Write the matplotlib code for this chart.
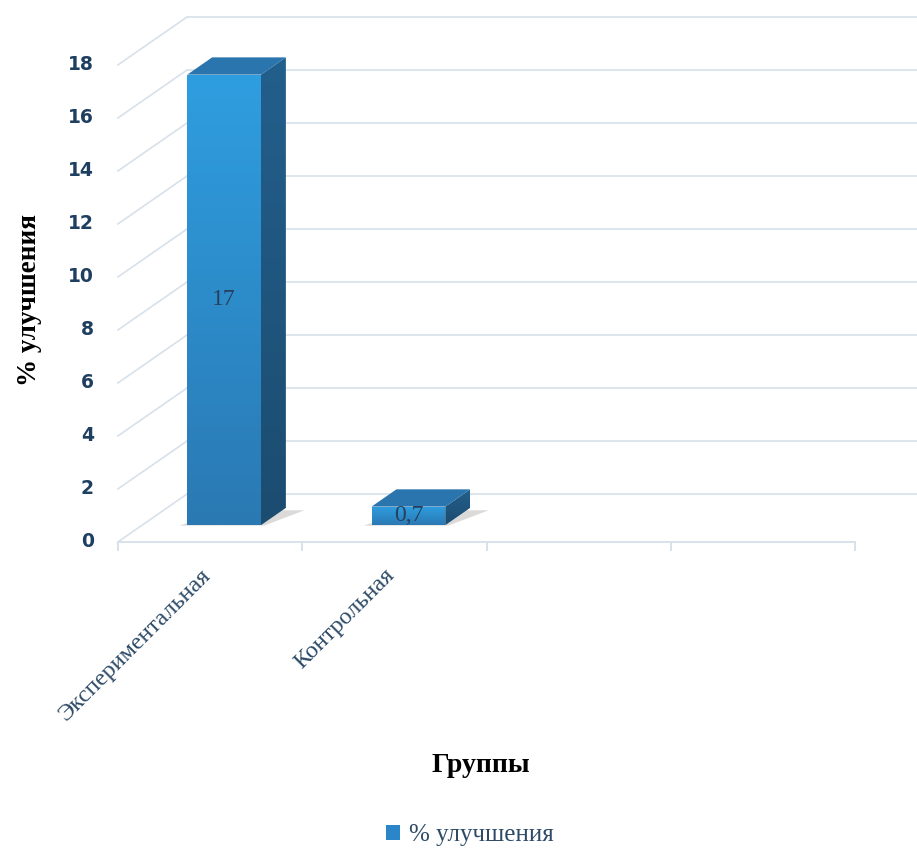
import matplotlib
matplotlib.use("Agg")
import matplotlib.pyplot as plt
import numpy as np
from matplotlib.patches import Polygon, Patch

# data
groups = ["Экспериментальная", "Контрольная", "", ""]
values = [17, 0.7]
y_ticks = [0, 2, 4, 6, 8, 10, 12, 14, 16, 18]
series_name = "% улучшения"
x_title = "Группы"
y_title = "% улучшения"

# oblique projection: depth d in [0, 1] shifts x and y
DX = 0.375
DY = 1.81
GRID = "#d8e1ea"
TEXT = "#2d4a66"


def proj(x, v, d):
    return x + d * DX, v + d * DY


def gradient_fill(ax, poly, c_top, c_bottom, x0, x1, v0, v1):
    grad = np.linspace(0, 1, 256).reshape(-1, 1)
    top = np.array(matplotlib.colors.to_rgb(c_top))
    bot = np.array(matplotlib.colors.to_rgb(c_bottom))
    img = top * (1 - grad[..., None]) + bot * grad[..., None]
    img = np.repeat(img, 2, axis=1)
    im = ax.imshow(img, extent=(x0, x1, v0, v1), aspect="auto",
                   origin="upper", zorder=3, interpolation="bilinear")
    ax.add_patch(poly)
    im.set_clip_path(poly)


def main():
    fig = plt.figure(figsize=(9.17, 8.52), dpi=100)
    ax = fig.add_axes([0, 0, 1, 1])
    ax.set_xlim(-0.640, 4.336)
    ax.set_ylim(-11.70, 20.45)
    ax.axis("off")

    n = len(groups)

    # back wall and side wall grid lines
    for v in y_ticks:
        x0, y0 = proj(0, v, 0)
        x1, y1 = proj(0, v, 1)
        ax.plot([x0, x1], [y0, y1], color=GRID, lw=1.2, zorder=1)
        ax.plot([x1, 4.6], [y1, y1], color=GRID, lw=1.2, zorder=1)
        ax.text(x0 - 0.13, v, str(v), ha="right", va="center",
                fontsize=13.5, fontweight="bold", color="#1f3f60",
                family="DejaVu Sans")

    # front floor edge with category ticks
    ax.plot([0, n], [0, 0], color=GRID, lw=1.4, zorder=2)
    for i in range(n + 1):
        ax.plot([i, i], [0, -0.3], color=GRID, lw=1.4, zorder=2)

    d0, d1 = 0.35, 0.71
    half = 0.2
    for i, val in enumerate(values):
        xc = i + 0.445
        xl, xr = xc - half, xc + half

        # soft shadow on the floor
        sh = [proj(xl - 0.04, 0, d0 - 0.01), proj(xr + 0.02, 0, d0 - 0.01),
              proj(xr + 0.12, 0, d1 - 0.05), proj(xl + 0.1, 0, d1 - 0.05)]
        ax.add_patch(Polygon(sh, closed=True, fc="#8a8580", ec="none",
                             alpha=0.3, zorder=2))

        # side face
        side = Polygon([proj(xr, 0, d0), proj(xr, 0, d1),
                        proj(xr, val, d1), proj(xr, val, d0)],
                       closed=True, fc="none", ec="none", zorder=3)
        sx0, _ = proj(xr, 0, d0)
        sx1, _ = proj(xr, 0, d1)
        _, sv0 = proj(xr, 0, d0)
        _, sv1 = proj(xr, val, d1)
        gradient_fill(ax, side, "#235f8c", "#1c4c70", sx0, sx1, sv0, sv1)

        # top face
        top = Polygon([proj(xl, val, d0), proj(xr, val, d0),
                       proj(xr, val, d1), proj(xl, val, d1)],
                      closed=True, fc="#2a75ad", ec="none", zorder=4)
        ax.add_patch(top)

        # front face
        fx0, fv0 = proj(xl, 0, d0)
        fx1, fv1 = proj(xr, val, d0)
        front = Polygon([(fx0, fv0), (fx1, fv0), (fx1, fv1), (fx0, fv1)],
                        closed=True, fc="none", ec="none", zorder=4)
        gradient_fill(ax, front, "#2f9ee0", "#2a79b3", fx0, fx1, fv0, fv1)

        label = ("%g" % val).replace(".", ",")
        ax.text((fx0 + fx1) / 2, (fv0 + fv1) / 2, label, ha="center",
                va="center", fontsize=17, color="#27405c",
                family="Liberation Serif", zorder=6)

    # category labels
    for i, g in enumerate(groups):
        if g:
            ax.text(i + 0.445, -0.85, g, rotation=45, rotation_mode="anchor",
                    ha="right", va="top", fontsize=17.5, color=TEXT,
                    family="Liberation Serif")

    fig.text(481 / 917, 1 - 766 / 852, x_title, ha="center", va="center",
             fontsize=20, fontweight="bold", color="black",
             family="Liberation Serif")
    fig.text(30 / 917, 1 - 300 / 852, y_title, ha="center", va="center",
             rotation=90, fontsize=19.5, fontweight="bold", color="black",
             family="Liberation Serif")

    handle = Patch(facecolor="#2a86c8", edgecolor="none")
    fig.legend([handle], [series_name], loc="center",
               bbox_to_anchor=(470 / 917, 1 - 835 / 852), frameon=False,
               handlelength=0.55, handleheight=0.55, handletextpad=0.35,
               prop={"family": "Liberation Serif", "size": 18},
               labelcolor=TEXT)

    fig.savefig("out.png", dpi=100)


if __name__ == "__main__":
    main()
